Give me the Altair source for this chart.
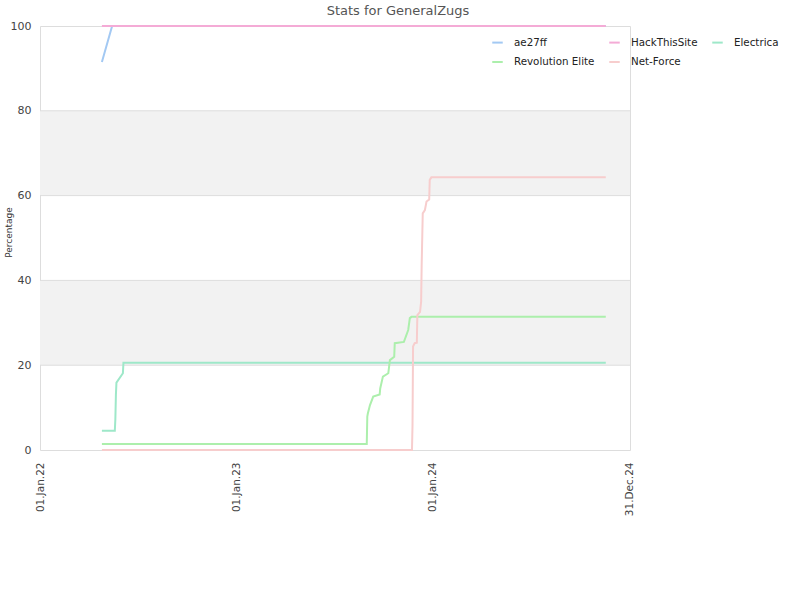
import altair as alt
import pandas as pd

series_names = ["ae27ff", "Revolution Elite", "HackThisSite", "Net-Force", "Electrica"]
series_colors = ["#a3c9f3", "#acefac", "#f4abd6", "#f7cdcd", "#9ee8c9"]

ae27ff_dates = ["2022-04-26", "2022-05-15", "2024-11-17"]
ae27ff_values = [91.5, 100, 100]

hts_dates = ["2022-04-26", "2024-11-17"]
hts_values = [100, 100]

electrica_dates = ["2022-04-26", "2022-05-20", "2022-05-21", "2022-05-22", "2022-05-23",
                   "2022-06-04", "2022-06-05", "2024-11-17"]
electrica_values = [4.55, 4.55, 7.3, 13.0, 15.9, 18.1, 20.6, 20.6]

revo_dates = ["2022-04-26", "2023-08-31", "2023-09-01", "2023-09-02", "2023-09-06",
              "2023-09-12", "2023-09-24", "2023-09-25", "2023-09-30", "2023-10-10",
              "2023-10-13", "2023-10-21", "2023-10-22", "2023-11-08", "2023-11-16",
              "2023-11-19", "2023-11-22", "2024-11-17"]
revo_values = [1.4, 1.4, 7.9, 8.6, 10.6, 12.6, 13.1, 14.5, 17.3, 18.1,
               21.2, 22.0, 25.2, 25.5, 28.3, 31.1, 31.4, 31.4]

netforce_dates = ["2022-04-26", "2023-11-23", "2023-11-24", "2023-11-25", "2023-11-28",
                  "2023-12-02", "2023-12-03", "2023-12-08", "2023-12-10", "2023-12-11",
                  "2023-12-13", "2023-12-17", "2023-12-20", "2023-12-25", "2023-12-26",
                  "2023-12-29", "2024-11-17"]
netforce_values = [0, 0, 5.9, 24.4, 25.2, 25.3, 31.8, 32.6, 35.0, 43.6,
                   55.8, 56.6, 58.6, 59.1, 63.7, 64.3, 64.3]

y_ticks = [0, 20, 40, 60, 80, 100]
grid_values = [20, 40, 60, 80]
band_lo = [20, 60]
band_hi = [40, 80]
x_tick_dates = ["2022-01-01", "2023-01-01", "2024-01-01", "2024-12-31"]
x_domain = ["2022-01-01", "2025-01-01"]

rows = []
for name, ds, vs in [("ae27ff", ae27ff_dates, ae27ff_values),
                     ("HackThisSite", hts_dates, hts_values),
                     ("Electrica", electrica_dates, electrica_values),
                     ("Revolution Elite", revo_dates, revo_values),
                     ("Net-Force", netforce_dates, netforce_values)]:
    for d, v in zip(ds, vs):
        rows.append({"series": name, "date": d, "value": v})
df = pd.DataFrame(rows)

bands = pd.DataFrame({"lo": band_lo, "hi": band_hi})
grid = pd.DataFrame({"g": grid_values})

def dt(s):
    y, m, d = s.split("-")
    return alt.DateTime(year=int(y), month=int(m), date=int(d), utc=True)

yscale = alt.Scale(domain=[0, 100], nice=False)
y_axis = alt.Axis(values=y_ticks, grid=False, domain=False, ticks=False,
                  labelPadding=9, labelFontSize=11, labelColor="#444",
                  title="Percentage", titleFontSize=9, titleFontWeight="normal",
                  titleColor="#333", titleX=-32, titleY=206, titleAngle=270,
                  titleAlign="center", titleBaseline="middle")

band_layer = alt.Chart(bands).mark_rect(color="#f2f2f2").encode(
    y=alt.Y("lo:Q", scale=yscale, axis=y_axis, title="Percentage"),
    y2="hi:Q",
    x=alt.value(0),
    x2=alt.value(590),
)

grid_layer = alt.Chart(grid).mark_rule(color="#dddddd", strokeWidth=1).encode(
    y=alt.Y("g:Q", scale=yscale, axis=y_axis, title="Percentage"),
    x=alt.value(0),
    x2=alt.value(590),
)

lines = alt.Chart(df).mark_line(strokeWidth=2).encode(
    x=alt.X("date:T",
            scale=alt.Scale(domain=[dt(s) for s in x_domain]),
            axis=alt.Axis(values=[dt(s) for s in x_tick_dates],
                          labelExpr="utcFormat(datum.value, '%d.%b.%y')",
                          labelAngle=270, labelAlign="right", labelBaseline="middle",
                          labelPadding=12, labelFontSize=10.5, labelColor="#444",
                          ticks=False, domain=False, grid=False, title=None)),
    y=alt.Y("value:Q", scale=yscale, axis=y_axis, title="Percentage"),
    color=alt.Color("series:N",
                    scale=alt.Scale(domain=series_names, range=series_colors),
                    legend=alt.Legend(orient="none", legendX=451, legendY=10, columns=3,
                                      symbolType="stroke", symbolSize=110,
                                      symbolStrokeWidth=2, labelFontSize=10.3,
                                      labelOffset=10, columnPadding=10, rowPadding=7.5,
                                      labelColor="#222", padding=0, title=None)),
)

chart = alt.layer(band_layer, grid_layer, lines).properties(
    width=590, height=424,
    title=alt.TitleParams("Stats for GeneralZugs", fontSize=13, fontWeight="normal",
                          color="#555", anchor="middle", dx=63, offset=2),
    autosize=alt.AutoSizeParams(type="none"),
    padding={"left": 40, "top": 26, "right": 170, "bottom": 150},
).configure(font="DejaVu Sans").configure_view(stroke="#dddddd", strokeWidth=1)

chart.save("out.html", embed_options={"renderer": "svg", "actions": False})
